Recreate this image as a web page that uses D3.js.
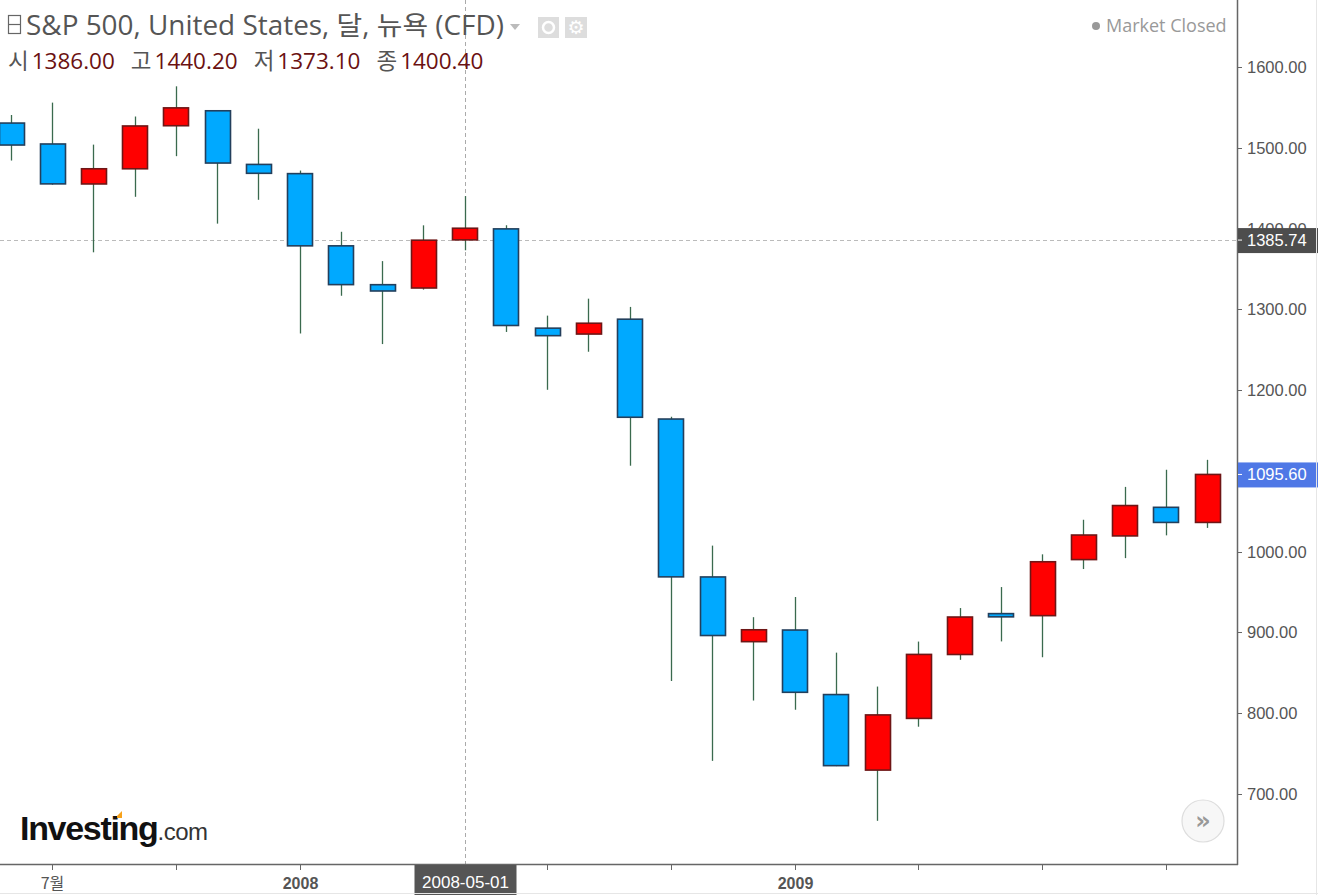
<!DOCTYPE html>
<html lang="ko">
<head>
    <meta charset="UTF-8">
    <title>S&amp;P 500 월봉</title>
    <script src="https://cdnjs.cloudflare.com/ajax/libs/d3/7.8.5/d3.min.js"></script>
    <style>
        html, body { margin: 0; padding: 0; background: #fff; }
        svg { display: block; }
        .hdr { font-family: 'Open Sans', 'Noto Sans CJK KR', sans-serif; }
        .ax text { font-family: 'Liberation Sans', Arial, sans-serif; }
    </style>
</head>
<body>
<svg id="chart" width="1318" height="895"></svg>
<script>
// monthly candles, Jun 2007 .. Nov 2009
const months = ["2007-06","2007-07","2007-08","2007-09","2007-10","2007-11","2007-12",
    "2008-01","2008-02","2008-03","2008-04","2008-05","2008-06","2008-07","2008-08","2008-09",
    "2008-10","2008-11","2008-12","2009-01","2009-02","2009-03","2009-04","2009-05","2009-06",
    "2009-07","2009-08","2009-09","2009-10","2009-11"];
const opens  = [1530.6,1504.7,1455.2,1474.0,1527.3,1545.8,1479.4,1468.0,1378.6,1330.5,1326.4,1386.0,
    1399.6,1276.7,1269.4,1287.8,1164.2,968.7,888.6,903.0,823.1,729.6,793.6,872.7,923.3,
    920.8,990.2,1019.5,1054.9,1036.2];
const highs  = [1540.6,1555.9,1503.9,1538.7,1576.1,1545.8,1523.6,1471.8,1396.0,1359.7,1404.0,1440.2,
    1404.1,1292.2,1313.2,1303.0,1167.0,1007.5,918.9,943.9,875.0,833.0,888.7,930.2,956.2,
    996.7,1039.5,1080.2,1101.4,1113.7];
const lows   = [1484.2,1454.3,1370.6,1439.3,1489.6,1406.1,1435.6,1270.1,1316.8,1257.0,1324.4,1373.1,
    1272.0,1200.4,1247.5,1106.4,839.8,741.0,815.7,804.3,734.5,666.8,783.3,866.1,888.9,
    869.3,978.5,992.0,1020.2,1029.4];
const closes = [1503.4,1455.3,1474.0,1527.0,1549.4,1481.1,1468.4,1378.6,1330.6,1322.7,1385.6,1400.4,
    1280.0,1267.4,1282.8,1166.4,968.8,896.2,903.3,825.9,735.1,797.9,872.8,919.1,919.3,
    987.5,1020.6,1057.1,1036.2,1095.6];
const priceTicks = [700,800,900,1000,1100,1200,1300,1400,1500,1600];
const timeTicks = ["2007-07","2007-10","2008-01","2008-04","2008-07","2008-10","2009-01","2009-04","2009-07","2009-10"];
const timeLabels = {"2007-07": "7월", "2008-01": "2008", "2009-01": "2009"};
const crossMonth = "2008-05";
const crossPrice = 1385.74;
const lastPrice = 1095.60;

const candles = months.map((m, i) => ({m, o: opens[i], h: highs[i], l: lows[i], c: closes[i]}));

const svg = d3.select("#chart");
const plotR = 1237, plotB = 864;

const x = d3.scalePoint().domain(months).range([11, 1207]);
const y = d3.scaleLinear().domain([700, 1600]).range([794, 67]);
const bw = 25;

const plot = svg.append("g");

// crosshair
plot.append("line").attr("x1", Math.round(x(crossMonth)) + 0.5).attr("x2", Math.round(x(crossMonth)) + 0.5)
    .attr("y1", 0).attr("y2", plotB)
    .attr("stroke", "#aaa").attr("stroke-dasharray", "4,3");
plot.append("line").attr("x1", 0).attr("x2", plotR)
    .attr("y1", Math.round(y(crossPrice)) + 0.5).attr("y2", Math.round(y(crossPrice)) + 0.5)
    .attr("stroke", "#bbb").attr("stroke-dasharray", "4,3");

// wicks
plot.selectAll("line.wick").data(candles).enter().append("line")
    .attr("class", "wick")
    .attr("x1", d => Math.round(x(d.m)) + 0.5).attr("x2", d => Math.round(x(d.m)) + 0.5)
    .attr("y1", d => y(d.h)).attr("y2", d => y(d.l))
    .attr("stroke", "#3a6a4e").attr("stroke-width", 1.3);

// bodies
plot.selectAll("rect.body").data(candles).enter().append("rect")
    .attr("class", "body")
    .attr("x", d => Math.round(x(d.m) - bw / 2) + 0.5)
    .attr("y", d => y(Math.max(d.o, d.c)))
    .attr("width", bw)
    .attr("height", d => Math.max(2, Math.abs(y(d.o) - y(d.c))))
    .attr("fill", d => d.c >= d.o ? "#ff0000" : "#00a9ff")
    .attr("stroke", d => d.c >= d.o ? "#6e1616" : "#233f5c")
    .attr("stroke-width", 1.6);

// right price axis
const ax = svg.append("g").attr("class", "ax");
ax.append("line").attr("x1", plotR + 0.5).attr("x2", plotR + 0.5).attr("y1", 0).attr("y2", plotB + 1)
    .attr("stroke", "#666").attr("stroke-width", 1.5);
ax.append("line").attr("x1", 0).attr("x2", plotR + 1).attr("y1", plotB + 0.5).attr("y2", plotB + 0.5)
    .attr("stroke", "#666").attr("stroke-width", 1.5);
const yt = ax.selectAll("g.yt").data(priceTicks).enter().append("g").attr("class", "yt")
    .attr("transform", d => `translate(${plotR},${Math.round(y(d)) + 0.5})`);
yt.append("line").attr("x1", 0).attr("x2", 5).attr("stroke", "#666");
// labels fully hidden under the last-price tag are not drawn
yt.filter(d => Math.abs(y(d) - y(lastPrice)) > 12).append("text").attr("x", 10).attr("dy", "0.36em")
    .attr("font-size", 16.5).attr("fill", "#555")
    .text(d => d3.format(".2f")(d));

// bottom time axis
const xt = ax.selectAll("g.xt").data(timeTicks).enter().append("g").attr("class", "xt")
    .attr("transform", d => `translate(${Math.round(x(d)) + 0.5},${plotB})`);
xt.append("line").attr("y1", 0).attr("y2", 6).attr("stroke", "#666");
xt.append("text").attr("y", 25).attr("text-anchor", "middle")
    .attr("font-size", 16).attr("fill", "#555")
    .attr("font-weight", d => timeLabels[d] && timeLabels[d] !== "7월" ? "bold" : "normal")
    .style("font-family", d => d === "2007-07" ? "'Noto Sans CJK KR', sans-serif" : null)
    .text(d => timeLabels[d] || "");

// crosshair labels
const cxm = Math.round(x(crossMonth)) + 0.5;
ax.append("rect").attr("x", cxm - 51).attr("y", plotB + 1).attr("width", 102).attr("height", 30).attr("fill", "#555");
ax.append("text").attr("x", cxm).attr("y", plotB + 24).attr("text-anchor", "middle")
    .attr("font-size", 17).attr("fill", "#fff").text(crossMonth + "-01");

function priceTag(v, fill) {
    const yy = y(v);
    ax.append("rect").attr("x", plotR + 1).attr("y", yy - 12).attr("width", 81).attr("height", 25).attr("fill", fill);
    ax.append("line").attr("x1", plotR + 1).attr("x2", plotR + 5).attr("y1", yy).attr("y2", yy).attr("stroke", "#fff");
    ax.append("text").attr("x", plotR + 10).attr("y", yy).attr("dy", "0.36em")
        .attr("font-size", 16.5).attr("fill", "#fff").text(d3.format(".2f")(v));
}
priceTag(crossPrice, "#4d4d4d");
priceTag(lastPrice, "#4f78e6");

// header
const hdr = svg.append("g").attr("class", "hdr");
hdr.append("rect").attr("x", 8.5).attr("y", 15.5).attr("width", 12).attr("height", 18)
    .attr("fill", "none").attr("stroke", "#666").attr("stroke-width", 1.2);
hdr.append("line").attr("x1", 9).attr("x2", 20).attr("y1", 24.5).attr("y2", 24.5).attr("stroke", "#666").attr("stroke-width", 1.2);
hdr.append("text").attr("x", 26).attr("y", 35).attr("font-size", 26.5).attr("fill", "#555")
    .attr("textLength", 478).attr("lengthAdjust", "spacingAndGlyphs")
    .text("S&P 500, United States, 달, 뉴욕 (CFD)");
hdr.append("path").attr("d", "M510,24 L520,24 L515,30 Z").attr("fill", "#bbb");
hdr.append("rect").attr("x", 538).attr("y", 17).attr("width", 21).attr("height", 21).attr("fill", "#ddd");
hdr.append("circle").attr("cx", 548.5).attr("cy", 27.5).attr("r", 5.5).attr("fill", "none").attr("stroke", "#fff").attr("stroke-width", 2.5);
hdr.append("rect").attr("x", 565).attr("y", 17).attr("width", 22).attr("height", 21).attr("fill", "#ddd");
hdr.append("text").attr("x", 576).attr("y", 34).attr("text-anchor", "middle").attr("font-size", 19)
    .attr("fill", "#fff").style("font-family", "'DejaVu Sans', sans-serif").text("⚙");

const ohlcNames = ["시", "고", "저", "종"];
const ohlcVals = [opens[11], highs[11], lows[11], closes[11]];
const ohlc = hdr.append("text").attr("x", 8).attr("y", 69).attr("font-size", 22.5);
ohlcNames.forEach((n, i) => {
    ohlc.append("tspan").attr("dx", i ? 16 : 0).attr("fill", "#555").text(n);
    ohlc.append("tspan").attr("dx", 3).attr("fill", "#6b1111").text(d3.format(".2f")(ohlcVals[i]));
});

// market closed
hdr.append("circle").attr("cx", 1096).attr("cy", 26).attr("r", 4).attr("fill", "#999");
hdr.append("text").attr("x", 1106).attr("y", 32).attr("font-size", 18).attr("fill", "#999").text("Market Closed");

// logo
const logo = svg.append("text").attr("x", 20).attr("y", 840)
    .style("font-family", "'Liberation Sans', Arial, sans-serif");
logo.append("tspan").attr("font-size", 34).attr("font-weight", "bold").attr("fill", "#111")
    .attr("letter-spacing", -1.3).text("Investing");
logo.append("tspan").attr("font-size", 24).attr("fill", "#333").attr("letter-spacing", -0.5).text(".com");
svg.append("path").attr("d", "M117,816 L122,811 L122,818 L117,818 Z").attr("fill", "#f7a21b");

// scroll button
svg.append("circle").attr("cx", 1203).attr("cy", 821).attr("r", 21)
    .attr("fill", "#f7f7f7").attr("stroke", "#ddd").attr("stroke-width", 1.2);
svg.append("text").attr("x", 1203).attr("y", 829).attr("text-anchor", "middle")
    .attr("font-size", 24).attr("font-weight", "bold").attr("fill", "#999")
    .style("font-family", "'DejaVu Sans', sans-serif").text("»");

// frame
svg.append("line").attr("x1", 1316.5).attr("x2", 1316.5).attr("y1", 0).attr("y2", 895).attr("stroke", "#e6e6e6");
svg.append("line").attr("x1", 0).attr("x2", 1318).attr("y1", 893.5).attr("y2", 893.5).attr("stroke", "#e6e6e6");
</script>
</body>
</html>
